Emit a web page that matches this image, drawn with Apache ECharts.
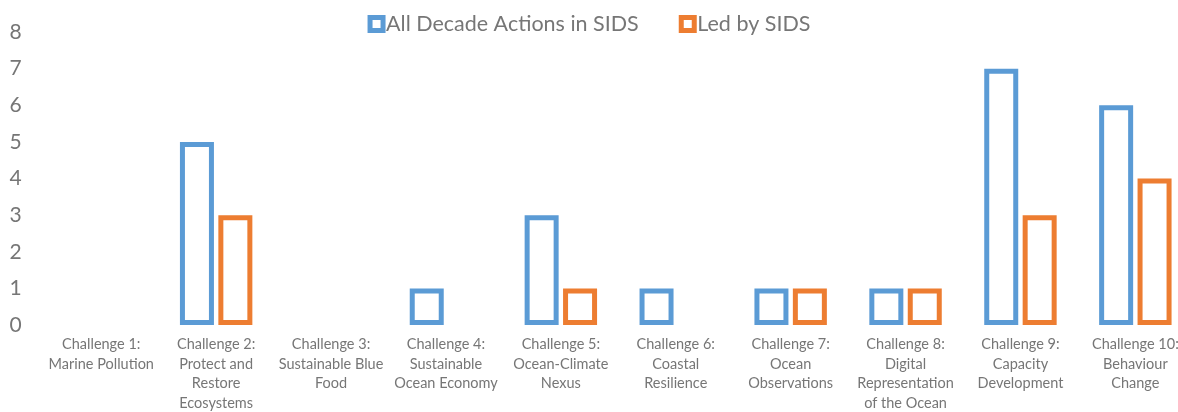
<!DOCTYPE html>
<html><head><meta charset="utf-8">
<script src="https://cdn.jsdelivr.net/npm/echarts@6/dist/echarts.min.js"></script>
<style>html,body{margin:0;padding:0;background:#fff}#c{width:1178px;height:412px}</style>
</head><body><div id="c"></div>
<script>
var categories = [
  "Challenge 1:\nMarine Pollution",
  "Challenge 2:\nProtect and\nRestore\nEcosystems",
  "Challenge 3:\nSustainable Blue\nFood",
  "Challenge 4:\nSustainable\nOcean Economy",
  "Challenge 5:\nOcean-Climate\nNexus",
  "Challenge 6:\nCoastal\nResilience",
  "Challenge 7:\nOcean\nObservations",
  "Challenge 8:\nDigital\nRepresentation\nof the Ocean",
  "Challenge 9:\nCapacity\nDevelopment",
  "Challenge 10:\nBehaviour\nChange"
];
var allActions = [0, 5, 0, 1, 3, 1, 1, 1, 7, 6];
var ledBySIDS = [0, 3, 0, 0, 1, 0, 1, 1, 3, 4];
var seriesNames = ["All Decade Actions in SIDS", "Led by SIDS"];
var colors = ["#5B9BD5", "#ED7D31"];
var font = "Lato, 'Open Sans', sans-serif";
function clean(a){ return a.map(function(v){ return v === 0 ? '-' : v; }); }
var chart = echarts.init(document.getElementById('c'));
chart.setOption({
  animation: false,
  legend: {
    top: 8, left: 'center', itemWidth: 13, itemHeight: 13, itemGap: 40,
    textStyle: {fontFamily: font, fontSize: 21.5, color: '#767676', padding: [0,0,0,-2]},
    data: seriesNames.map(function(n, i){
      return {name: n, icon: 'rect', itemStyle: {color: '#fff', borderColor: colors[i], borderWidth: 5}};
    })
  },
  grid: {left: 43.8, top: 32, width: 1149, height: 293, outerBoundsMode: 'none', containLabel: false},
  xAxis: {
    type: 'category', data: categories,
    axisLine: {show: false}, axisTick: {show: false},
    axisLabel: {interval: 0, margin: 10, fontFamily: font, fontSize: 14.5, lineHeight: 19.5, color: '#767676'}
  },
  yAxis: {
    type: 'value', min: 0, max: 8, interval: 1,
    splitLine: {show: false}, axisLine: {show: false}, axisTick: {show: false},
    axisLabel: {margin: 22, fontFamily: font, fontSize: 21, color: '#767676'}
  },
  series: [
    {name: seriesNames[0], type: 'bar', data: clean(allActions), barWidth: 34, barGap: '13%',
     itemStyle: {color: '#fff', borderColor: colors[0], borderWidth: 5}},
    {name: seriesNames[1], type: 'bar', data: clean(ledBySIDS), barWidth: 34, barGap: '13%',
     itemStyle: {color: '#fff', borderColor: colors[1], borderWidth: 5}}
  ]
});
</script></body></html>
